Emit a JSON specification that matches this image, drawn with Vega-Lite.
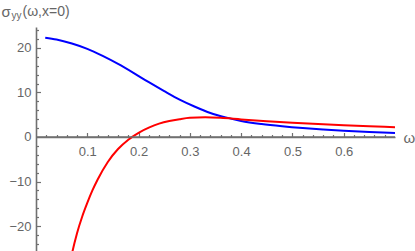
{
  "$schema": "https://vega.github.io/schema/vega-lite/v6.json",
  "width": 359,
  "height": 224,
  "padding": {"left": 36, "top": 27, "right": 20, "bottom": 0},
  "autosize": {"type": "none"},
  "background": "white",
  "config": {
    "view": {"stroke": null},
    "axis": {
      "grid": false,
      "labelFont": "Liberation Sans",
      "labelFontSize": 13,
      "labelColor": "#666666",
      "titleFont": "Liberation Sans",
      "titleColor": "#666666",
      "titleFontWeight": "normal",
      "domainColor": "#707070",
      "tickColor": "#707070",
      "tickWidth": 1.2
    }
  },
  "resolve": {"axis": {"x": "independent", "y": "independent"}},
  "layer": [
    {
      "data": {"values": [
        {"w": 0.018, "s": 22.3},
        {"w": 0.04, "s": 21.9},
        {"w": 0.07, "s": 21.0},
        {"w": 0.10, "s": 19.8},
        {"w": 0.13, "s": 18.2},
        {"w": 0.16, "s": 16.4},
        {"w": 0.19, "s": 14.4},
        {"w": 0.22, "s": 12.3},
        {"w": 0.25, "s": 10.3},
        {"w": 0.28, "s": 8.4},
        {"w": 0.31, "s": 6.8},
        {"w": 0.34, "s": 5.4},
        {"w": 0.37, "s": 4.4},
        {"w": 0.40, "s": 3.6},
        {"w": 0.44, "s": 2.9},
        {"w": 0.48, "s": 2.4},
        {"w": 0.52, "s": 2.0},
        {"w": 0.56, "s": 1.68},
        {"w": 0.60, "s": 1.4},
        {"w": 0.65, "s": 1.12},
        {"w": 0.70, "s": 0.9}
      ]},
      "mark": {"type": "line", "color": "#0000ff", "strokeWidth": 2, "interpolate": "monotone", "clip": true},
      "encoding": {
        "x": {
          "field": "w", "type": "quantitative",
          "scale": {"domain": [0, 0.7], "nice": false, "zero": false},
          "axis": {
            "orient": "bottom", "offset": -114,
            "values": [0.1, 0.2, 0.3, 0.4, 0.5, 0.6],
            "format": ".1f",
            "ticks": false, "domainWidth": 1.6,
            "labelPadding": 8.5,
            "title": "ω", "titleFontSize": 15, "titleAlign": "left", "titleBaseline": "alphabetic",
            "titleX": 367, "titleY": 5
          }
        },
        "y": {
          "field": "s", "type": "quantitative",
          "scale": {"domain": [-25.6, 24.7], "nice": false, "zero": false},
          "axis": {
            "orient": "left",
            "values": [-20, -10, 0, 10, 20],
            "format": "d",
            "ticks": false, "domainWidth": 1.6,
            "labelPadding": 5,
            "title": "σ", "titleFontSize": 15, "titleAngle": 0, "titleAlign": "left", "titleBaseline": "alphabetic",
            "titleX": -35, "titleY": -11
          }
        }
      }
    },
    {
      "data": {"values": [
        {"w": 0.064, "s": -30.0},
        {"w": 0.07, "s": -26.3},
        {"w": 0.08, "s": -21.6},
        {"w": 0.09, "s": -17.9},
        {"w": 0.10, "s": -14.8},
        {"w": 0.11, "s": -12.0},
        {"w": 0.12, "s": -9.6},
        {"w": 0.14, "s": -5.6},
        {"w": 0.16, "s": -2.7},
        {"w": 0.18, "s": -0.6},
        {"w": 0.20, "s": 0.95},
        {"w": 0.22, "s": 2.1},
        {"w": 0.24, "s": 3.0},
        {"w": 0.26, "s": 3.6},
        {"w": 0.28, "s": 4.0},
        {"w": 0.30, "s": 4.3},
        {"w": 0.33, "s": 4.42},
        {"w": 0.36, "s": 4.3},
        {"w": 0.40, "s": 3.95},
        {"w": 0.45, "s": 3.55},
        {"w": 0.50, "s": 3.2},
        {"w": 0.55, "s": 2.9},
        {"w": 0.60, "s": 2.65},
        {"w": 0.65, "s": 2.42},
        {"w": 0.70, "s": 2.2}
      ]},
      "mark": {"type": "line", "color": "#ff0000", "strokeWidth": 2, "interpolate": "monotone", "clip": true},
      "encoding": {
        "x": {
          "field": "w", "type": "quantitative",
          "scale": {"domain": [0, 0.7], "nice": false, "zero": false},
          "axis": {
            "orient": "top", "offset": -110,
            "values": [0.1, 0.2, 0.3, 0.4, 0.5, 0.6],
            "domain": false, "labels": false,
            "tickSize": 4.5,
            "title": "(ω,x=0)", "titleFontSize": 14, "titleAlign": "left", "titleBaseline": "alphabetic",
            "titleX": -14, "titleY": -122
          }
        },
        "y": {
          "field": "s", "type": "quantitative",
          "scale": {"domain": [-25.6, 24.7], "nice": false, "zero": false},
          "axis": {
            "orient": "right", "offset": -359,
            "values": [-20, -10, 10, 20],
            "domain": false, "labels": false,
            "tickSize": 4.5,
            "title": "yy", "titleFontSize": 10, "titleAngle": 0, "titleAlign": "left", "titleBaseline": "alphabetic",
            "titleX": -25, "titleY": -9
          }
        }
      }
    },
    {
      "data": {"values": [{"w0": 0, "w1": 0.7, "z": 0}]},
      "mark": {"type": "rule", "color": "#707070", "strokeWidth": 1.6},
      "encoding": {
        "x": {
          "field": "w0", "type": "quantitative",
          "scale": {"domain": [0, 0.7], "nice": false, "zero": false},
          "axis": {
            "orient": "top", "offset": -110,
            "values": [0.02, 0.04, 0.06, 0.08, 0.12, 0.14, 0.16, 0.18, 0.22, 0.24, 0.26, 0.28, 0.32, 0.34, 0.36, 0.38, 0.42, 0.44, 0.46, 0.48, 0.52, 0.54, 0.56, 0.58, 0.62, 0.64, 0.66, 0.68],
            "domain": false, "labels": false,
            "tickSize": 2.5,
            "title": null
          }
        },
        "x2": {"field": "w1"},
        "y": {
          "field": "z", "type": "quantitative",
          "scale": {"domain": [-25.6, 24.7], "nice": false, "zero": false},
          "axis": {
            "orient": "right", "offset": -359,
            "values": [-24, -22, -18, -16, -14, -12, -8, -6, -4, -2, 2, 4, 6, 8, 12, 14, 16, 18, 22, 24],
            "domain": false, "labels": false,
            "tickSize": 2.5,
            "title": null
          }
        }
      }
    }
  ]
}
